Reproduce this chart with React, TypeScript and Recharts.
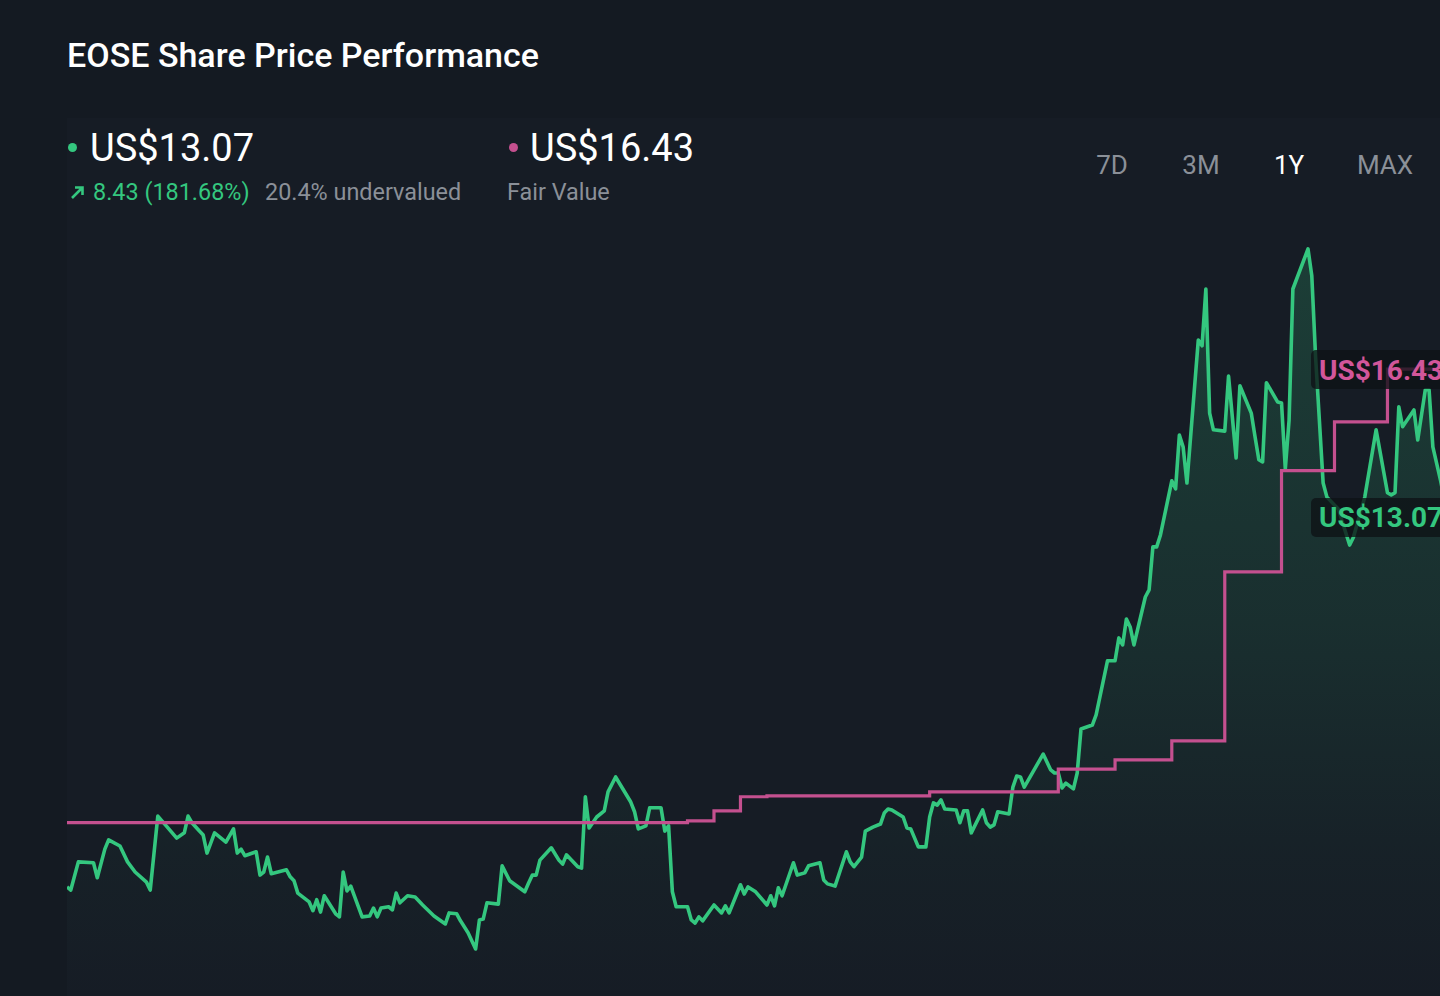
import React from 'react';
import { ComposedChart, Area, Line, XAxis, YAxis, ReferenceDot } from 'recharts';

// 1Y window, x = calendar day (0 = one year ago), y = share price in US$
const priceHistory: [number, number][] = [
  [0, 4.66], [1, 4.59], [3, 5.23], [7, 5.21], [8, 4.87], [10, 5.52], [11, 5.73], [14, 5.59], [16, 5.23], [18, 5.0],
  [21, 4.77], [22, 4.59], [24, 6.27], [26, 6.07], [29, 5.77], [31, 5.89], [32, 6.27], [33, 6.12], [35, 5.93], [36, 5.84],
  [37, 5.43], [39, 5.89], [42, 5.68], [44, 5.98], [45, 5.43], [46, 5.52], [47, 5.37], [50, 5.46], [51, 4.93], [52, 5.0],
  [53, 5.34], [54, 4.96], [58, 5.05], [59, 4.89], [60, 4.8], [61, 4.52], [64, 4.32], [65, 4.12], [66, 4.37], [67, 4.09],
  [68, 4.46], [71, 4.05], [72, 3.98], [73, 5.0], [74, 4.57], [75, 4.68], [78, 3.98], [80, 4.0], [81, 4.18], [82, 3.98],
  [83, 4.18], [85, 4.21], [86, 4.14], [87, 4.52], [88, 4.3], [90, 4.46], [92, 4.43], [94, 4.25], [97, 4.0], [100, 3.82],
  [101, 4.07], [103, 4.05], [104, 3.89], [106, 3.62], [108, 3.25], [109, 3.91], [110, 3.93], [111, 4.3], [114, 4.27], [115, 5.14],
  [117, 4.8], [121, 4.55], [122, 4.75], [123, 4.93], [124, 4.93], [125, 5.27], [128, 5.55], [130, 5.27], [131, 5.18], [132, 5.39],
  [135, 5.12], [136, 5.09], [137, 6.71], [138, 6.0], [140, 6.25], [142, 6.39], [143, 6.82], [145, 7.16], [149, 6.59], [150, 6.37],
  [151, 5.98], [153, 6.05], [154, 6.46], [157, 6.46], [158, 5.93], [159, 6.05], [160, 4.55], [161, 4.21], [164, 4.21], [165, 3.91],
  [166, 3.84], [167, 3.98], [168, 3.89], [171, 4.25], [173, 4.07], [174, 4.23], [175, 4.07], [178, 4.71], [179, 4.5], [180, 4.66],
  [182, 4.55], [185, 4.25], [186, 4.46], [187, 4.23], [188, 4.64], [189, 4.46], [192, 5.21], [193, 4.93], [195, 4.98], [196, 5.14],
  [199, 5.21], [200, 4.82], [201, 4.73], [203, 4.68], [206, 5.46], [207, 5.23], [208, 5.12], [210, 5.34], [211, 5.93], [213, 6.02],
  [215, 6.09], [216, 6.34], [217, 6.43], [218, 6.41], [221, 6.25], [222, 6.0], [223, 5.98], [225, 5.57], [227, 5.57], [228, 6.25],
  [229, 6.57], [230, 6.52], [231, 6.64], [232, 6.43], [235, 6.41], [236, 6.12], [237, 6.39], [238, 6.39], [239, 5.89], [242, 6.41],
  [243, 6.12], [244, 6.02], [245, 6.07], [246, 6.37], [249, 6.32], [250, 6.93], [251, 7.18], [252, 7.16], [253, 6.93], [258, 7.68],
  [260, 7.32], [261, 7.25], [262, 7.25], [263, 6.91], [264, 7.02], [266, 6.89], [267, 7.25], [268, 8.25], [271, 8.34], [272, 8.57],
  [275, 9.8], [277, 9.8], [278, 10.32], [279, 10.16], [280, 10.75], [281, 10.57], [282, 10.16], [285, 11.25], [286, 11.41], [287, 12.39],
  [288, 12.39], [289, 12.66], [292, 13.89], [293, 13.71], [294, 14.93], [295, 14.66], [296, 13.84], [299, 17.09], [300, 16.96], [301, 18.25],
  [302, 15.43], [303, 15.05], [306, 15.02], [307, 16.27], [308, 15.34], [309, 14.41], [310, 16.05], [313, 15.43], [314, 14.89], [315, 14.37],
  [316, 14.32], [317, 16.12], [320, 15.68], [321, 15.66], [322, 14.16], [323, 15.27], [324, 18.25], [328, 19.16], [329, 18.55], [330, 16.71],
  [332, 13.84], [333, 13.52], [336, 13.25], [339, 12.43], [340, 12.61], [343, 13.52], [346, 15.05], [349, 13.62], [350, 13.57], [351, 13.62],
  [352, 15.57], [353, 15.12], [356, 15.5], [357, 14.82], [359, 15.96], [360, 15.96], [361, 14.66], [363, 13.91], [365, 13.07],
];

// analyst fair value estimate, changes on the given day
const fairValueHistory: [number, number][] = [
  [0, 6.12], [164, 6.16], [171, 6.39], [178, 6.71], [185, 6.73], [228, 6.82], [262, 7.34],
  [277, 7.55], [292, 7.98], [306, 11.82], [321, 14.12], [335, 15.23], [349, 16.43], [365, 16.43],
];

const RANGES = ['7D', '3M', '1Y', 'MAX'];
const ACTIVE_RANGE = '1Y';
const LAST_PRICE = 13.07;
const FAIR_VALUE = 16.43;
const PRICE_CHANGE = 8.43;
const PRICE_CHANGE_PCT = 181.68;
const UNDERVALUED_PCT = 20.4;
const LAST_DAY = 365;

const GREEN = '#34c77f';
const PINK = '#c4508f';
const BG = '#141a22';
const MUTED = '#8b9098';
const FONT = 'Roboto, "Noto Sans", sans-serif';

const priceRows = priceHistory.map(([day, price]) => ({ day, price }));
const fairRows = fairValueHistory.map(([day, fair]) => ({ day, fair }));

const money = (n: number) => `US$${n.toFixed(2)}`;

function PriceTag({ cx, cy, text, color }: { cx?: number; cy?: number; text: string; color: string }) {
  if (cx == null || cy == null) return null;
  return (
    <g>
      <rect x={cx - 137} y={cy - 19} width={160} height={39} rx={5} fill="rgba(14,18,22,0.78)" />
      <text
        x={cx - 129}
        y={cy + 1}
        dominantBaseline="central"
        fontFamily={FONT}
        fontSize={28}
        fontWeight={700}
        fill={color}
      >
        {text}
      </text>
    </g>
  );
}

export default function App() {
  return (
    <div
      style={{
        position: 'fixed',
        left: 0,
        top: 0,
        width: 1440,
        height: 996,
        overflow: 'hidden',
        background: BG,
        fontFamily: FONT,
      }}
    >
      {/* faint panel behind the header stats + plot */}
      <div style={{ position: 'absolute', left: 67, top: 118, right: 0, bottom: 0, background: '#161c25' }} />

      <div
        style={{
          position: 'absolute',
          left: 67,
          top: 38,
          fontSize: 34,
          lineHeight: '34px',
          fontWeight: 500,
          color: '#ffffff',
          whiteSpace: 'nowrap',
        }}
      >
        EOSE Share Price Performance
      </div>

      {/* share price */}
      <div style={{ position: 'absolute', left: 67.5, top: 142.5, width: 9, height: 9, borderRadius: 5, background: GREEN }} />
      <div style={{ position: 'absolute', left: 90, top: 129, fontSize: 38, lineHeight: '38px', color: '#fff', whiteSpace: 'nowrap' }}>
        {money(LAST_PRICE)}
      </div>
      <svg style={{ position: 'absolute', left: 69, top: 184 }} width={17} height={17} viewBox="0 0 17 17">
        <path d="M3 14 L13 4 M6 3.5 H13.5 V11" stroke={GREEN} strokeWidth={2.6} fill="none" />
      </svg>
      <div style={{ position: 'absolute', left: 93, top: 181, fontSize: 23.4, lineHeight: '23px', color: GREEN, whiteSpace: 'nowrap' }}>
        {PRICE_CHANGE.toFixed(2)} ({PRICE_CHANGE_PCT.toFixed(2)}%)
      </div>
      <div style={{ position: 'absolute', left: 265, top: 181, fontSize: 23.4, lineHeight: '23px', color: MUTED, whiteSpace: 'nowrap' }}>
        {UNDERVALUED_PCT}% undervalued
      </div>

      {/* fair value */}
      <div style={{ position: 'absolute', left: 508.5, top: 142.5, width: 9, height: 9, borderRadius: 5, background: PINK }} />
      <div style={{ position: 'absolute', left: 530, top: 129, fontSize: 38, lineHeight: '38px', color: '#fff', whiteSpace: 'nowrap' }}>
        {money(FAIR_VALUE)}
      </div>
      <div style={{ position: 'absolute', left: 507, top: 181, fontSize: 23.4, lineHeight: '23px', color: MUTED, whiteSpace: 'nowrap' }}>
        Fair Value
      </div>

      {/* range selector */}
      {RANGES.map((r, i) => (
        <div
          key={r}
          style={{
            position: 'absolute',
            left: [1112, 1201, 1289, 1385][i] - 50,
            width: 100,
            textAlign: 'center',
            top: 152,
            fontSize: 26,
            lineHeight: '26px',
            color: r === ACTIVE_RANGE ? '#ffffff' : MUTED,
          }}
        >
          {r}
        </div>
      ))}

      <div style={{ position: 'absolute', left: 0, top: 0 }}>
        <ComposedChart width={1460} height={1010} margin={{ top: 212, right: 12, bottom: 6, left: 67 }}>
          <defs>
            <linearGradient id="priceFill" x1="0" y1="0" x2="0" y2="1">
              <stop offset="0%" stopColor={GREEN} stopOpacity={0.2} />
              <stop offset="50%" stopColor={GREEN} stopOpacity={0.11} />
              <stop offset="80%" stopColor={GREEN} stopOpacity={0.03} />
              <stop offset="100%" stopColor={GREEN} stopOpacity={0} />
            </linearGradient>
          </defs>
          <XAxis type="number" dataKey="day" domain={[0, LAST_DAY]} hide allowDataOverflow />
          <YAxis type="number" domain={[2, 20]} hide allowDataOverflow />
          <Area
            data={priceRows}
            dataKey="price"
            type="linear"
            stroke={GREEN}
            strokeWidth={3.6}
            strokeLinejoin="round"
            fill="url(#priceFill)"
            fillOpacity={1}
            baseValue={2}
            dot={false}
            activeDot={false}
            isAnimationActive={false}
          />
          <Line
            data={fairRows}
            dataKey="fair"
            type="stepAfter"
            stroke={PINK}
            strokeWidth={3.2}
            dot={false}
            activeDot={false}
            isAnimationActive={false}
          />
          <ReferenceDot
            x={LAST_DAY}
            y={FAIR_VALUE}
            r={0}
            ifOverflow="visible"
            shape={(p: any) => <PriceTag cx={p.cx} cy={p.cy} text={money(FAIR_VALUE)} color="#d2569a" />}
          />
          <ReferenceDot
            x={LAST_DAY}
            y={LAST_PRICE}
            r={0}
            ifOverflow="visible"
            shape={(p: any) => <PriceTag cx={p.cx} cy={p.cy} text={money(LAST_PRICE)} color={GREEN} />}
          />
        </ComposedChart>
      </div>
    </div>
  );
}
